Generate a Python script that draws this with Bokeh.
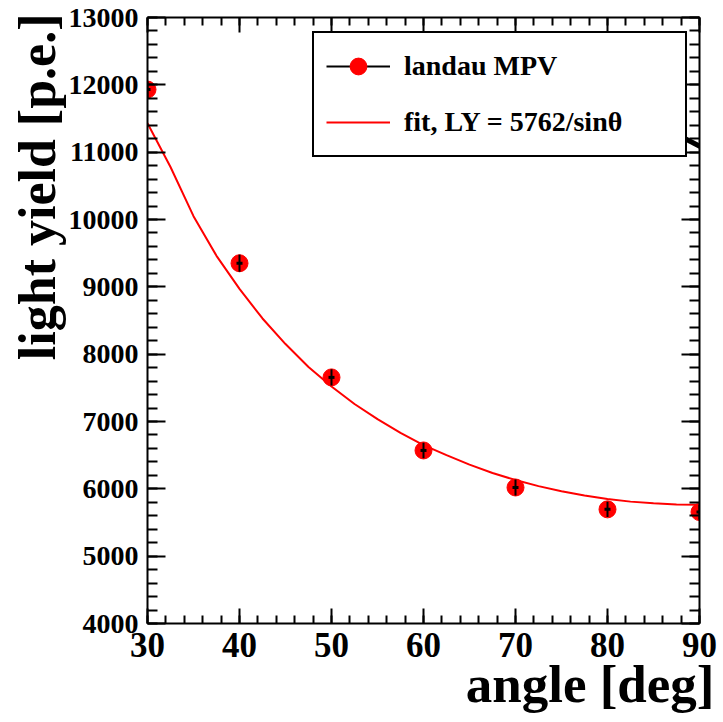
import math
from bokeh.plotting import figure
from bokeh.models import (Range1d, LinearAxis, ColumnDataSource, Legend, LegendItem,
                          Arrow, SingleIntervalTicker, CustomJSTickFormatter, Title)
from bokeh.embed import file_html
from bokeh.resources import INLINE

# ---- data ----
angles = [30, 40, 50, 60, 70, 80, 90]
light_yield = [11930, 9350, 7655, 6570, 6020, 5695, 5655]
ly_err = [120, 125, 120, 115, 120, 115, 110]

fit_angles = [30, 32.5, 35, 37.5, 40, 42.5, 45, 47.5, 50, 52.5, 55, 57.5, 60,
              62.5, 65, 67.5, 70, 72.5, 75, 77.5, 80, 82.5, 85, 87.5, 90]
fit_ly = [11430, 10780, 10050, 9460, 8970, 8530, 8150, 7810, 7520, 7260, 7035, 6830, 6650,
          6500, 6360, 6235, 6130, 6040, 5965, 5900, 5850, 5810, 5785, 5768, 5762]

x_min, x_max = 30, 90
y_min, y_max = 4000, 13000
x_tick_step = 10
y_tick_step = 1000
legend_labels = ["landau MPV", "fit, LY = 5762/sin\u03b8"]
x_title = "angle [deg]"
y_title = "light yield [p.e.]"

FONT = "Liberation Serif"

src = ColumnDataSource(dict(
    x=angles, y=light_yield,
    lo=[v - e for v, e in zip(light_yield, ly_err)],
    hi=[v + e for v, e in zip(light_yield, ly_err)],
))
fit_src = ColumnDataSource(dict(x=fit_angles, y=fit_ly))

p = figure(width=723, height=722, x_range=Range1d(x_min, x_max),
           y_range=Range1d(y_min, y_max),
           output_backend="svg", toolbar_location=None,
           x_axis_location=None, y_axis_location=None,
           min_border_left=147, min_border_right=24, min_border_top=17, min_border_bottom=99)
p.grid.visible = False
p.outline_line_color = None
p.background_fill_color = "white"
p.border_fill_color = "white"


def make_axis(step, show_labels, tick_in, minor_in, font_size):
    ax = LinearAxis(ticker=SingleIntervalTicker(interval=step, num_minor_ticks=5))
    ax.major_tick_in = tick_in
    ax.major_tick_out = 0
    ax.minor_tick_in = minor_in
    ax.minor_tick_out = 0
    ax.axis_line_width = 2
    ax.major_tick_line_width = 2
    ax.minor_tick_line_width = 2
    ax.axis_line_color = "black"
    ax.major_tick_line_color = "black"
    ax.minor_tick_line_color = "black"
    if show_labels:
        ax.major_label_text_font = FONT
        ax.major_label_text_font_style = "bold"
        ax.major_label_text_font_size = font_size
        ax.major_label_text_color = "black"
    else:
        ax.formatter = CustomJSTickFormatter(code="return ''")
        ax.major_label_standoff = 0
    return ax


bottom = make_axis(x_tick_step, True, 15, 8, "35px")
bottom.major_label_standoff = 9
left = make_axis(y_tick_step, True, 18, 10, "28px")
left.major_label_standoff = 9
top = make_axis(x_tick_step, False, 15, 8, "0px")
right = make_axis(y_tick_step, False, 18, 10, "0px")

p.add_layout(bottom, "below")
p.add_layout(left, "left")
p.add_layout(top, "above")
p.add_layout(right, "right")

p.add_layout(Title(text=x_title, align="right", text_font=FONT, text_font_style="bold",
                   text_font_size="53px", text_color="black", standoff=-13, offset=-15), "below")
p.add_layout(Title(text=y_title, align="right", text_font=FONT, text_font_style="bold",
                   text_font_size="52px", text_color="black", standoff=0, offset=-4), "left")

fit_r = p.line("x", "y", source=fit_src, line_color="red", line_width=2)
err_r = p.segment(x0="x", y0="lo", x1="x", y1="hi", source=src, line_color="black", line_width=2)
pts_r = p.scatter("x", "y", source=src, marker="circle", size=17,
                  fill_color="red", line_color="red")
p.segment(x0="x", y0="lo", x1="x", y1="hi", source=src, line_color="black", line_width=2)
p.scatter("x", "y", source=src, marker="dash", size=6, line_color="black", line_width=3)

legend = Legend(items=[LegendItem(label=legend_labels[0], renderers=[err_r, pts_r]),
                       LegendItem(label=legend_labels[1], renderers=[fit_r])],
                location=(165, 466))
legend.label_text_font = FONT
legend.label_text_font_style = "bold"
legend.label_text_font_size = "28px"
legend.label_text_color = "black"
legend.border_line_color = "black"
legend.border_line_alpha = 1
legend.border_line_width = 2
legend.background_fill_color = "white"
legend.background_fill_alpha = 1
legend.padding = 12
legend.spacing = 14
legend.margin = 0
legend.glyph_width = 64
legend.glyph_height = 42
legend.label_height = 42
legend.label_standoff = 14
legend.label_width = 269
p.add_layout(legend)

p.add_layout(Arrow(x_start=516, y_start=496, x_end=576, y_end=465,
                   start_units="screen", end_units="screen", end=None,
                   line_width=5, line_color="black", level="overlay"))

open("out.html", "w").write(file_html(p, INLINE))
